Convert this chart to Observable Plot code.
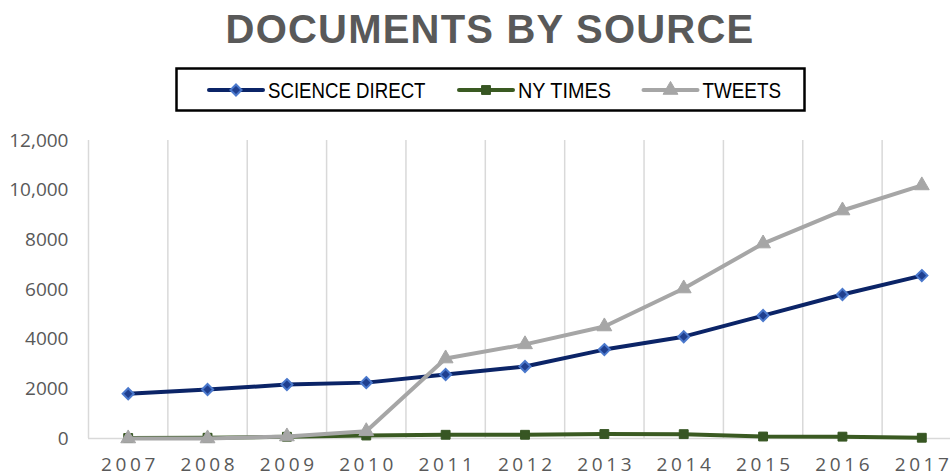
<!DOCTYPE html>
<html>
<head>
<meta charset="utf-8">
<script src="https://cdn.jsdelivr.net/npm/d3@7"></script>
<script src="https://cdn.jsdelivr.net/npm/@observablehq/plot@0.6"></script>
<style>
  html, body { margin: 0; padding: 0; background: #fff; }
  #wrap { position: relative; width: 950px; height: 475px; overflow: hidden; background: #fff; }
  #title { position: absolute; left: 0; top: 9px; width: 980px; text-align: center;
    font-family: "Liberation Sans", Arial, sans-serif; font-weight: bold; font-size: 40px;
    line-height: 40px; letter-spacing: 1.2px; color: #595959; }
  #legend { position: absolute; left: 175px; top: 67px; }
  #chart { position: absolute; left: 0; top: 120px; width: 961px; }
  #chart svg { max-width: none !important; width: 961px !important; height: 355px !important; }
  #chart g[aria-label="x-axis tick label"] text { letter-spacing: 3.6px; }
</style>
</head>
<body>
<div id="wrap">
  <div id="title">DOCUMENTS BY SOURCE</div>
  <div id="legend"></div>
  <div id="chart"></div>
</div>
<script>
const years = [2007, 2008, 2009, 2010, 2011, 2012, 2013, 2014, 2015, 2016, 2017];
const scienceDirect = [1800, 1970, 2170, 2250, 2580, 2900, 3580, 4100, 4950, 5800, 6560];
const nyTimes = [20, 30, 70, 120, 150, 150, 180, 175, 80, 75, 30];
const tweets = [0, 0, 80, 290, 3220, 3790, 4510, 6040, 7850, 9180, 10190];
const seriesNames = ["SCIENCE DIRECT", "NY TIMES", "TWEETS"];
const yTicks = [0, 2000, 4000, 6000, 8000, 10000, 12000];
const yTickLabels = ["0", "2000", "4000", "6000", "8000", "10,000", "12,000"];

const styles = {
  "SCIENCE DIRECT": {line: "#0B2467", fill: "#1F3F8F", stroke: "#4A78CC", symbol: "diamond2", r: 5, sw: 2},
  "NY TIMES": {line: "#3A5A22", fill: "#375623", stroke: "#375623", symbol: "square", r: 5, sw: 1},
  "TWEETS": {line: "#A6A6A6", fill: "#A6A6A6", stroke: "#A6A6A6", symbol: "triangle", r: 5.5, sw: 1}
};

const valuesBySeries = {"SCIENCE DIRECT": scienceDirect, "NY TIMES": nyTimes, "TWEETS": tweets};
const data = seriesNames.flatMap(s => years.map((yr, i) => ({series: s, year: yr, value: valuesBySeries[s][i]})));
const boundaries = years.map(y => y - 0.5).concat([years[years.length - 1] + 0.5]);

const marks = [
  Plot.ruleX(boundaries, {x: d => d, y1: 0, y2: 12000, stroke: "#D9D9D9", strokeWidth: 1.5}),
  Plot.ruleY([0], {stroke: "#D9D9D9", strokeWidth: 1.5}),
  Plot.axisY({ticks: yTicks, tickFormat: d => yTickLabels[yTicks.indexOf(d)], tickSize: 0, tickPadding: 20,
    fontSize: 19, fontFamily: "Open Sans, sans-serif", fill: "#595959", label: null}),
  Plot.axisX({ticks: years, tickFormat: d => String(d), tickSize: 0, tickPadding: 19,
    fontSize: 19, fontFamily: "Open Sans, sans-serif", fill: "#595959", label: null, dx: 1.8})
];
for (const s of seriesNames) {
  const st = styles[s];
  const d = data.filter(r => r.series === s);
  marks.push(Plot.line(d, {x: "year", y: "value", stroke: st.line, strokeWidth: 4, strokeLinejoin: "round", strokeLinecap: "round"}));
  marks.push(Plot.dot(d, {x: "year", y: "value", symbol: st.symbol, r: st.r,
    fill: st.fill, stroke: st.stroke, strokeWidth: st.sw}));
}

const chart = Plot.plot({
  width: 961,
  height: 355,
  marginLeft: 88,
  marginRight: 0,
  marginTop: 20,
  marginBottom: 37,
  x: {domain: [2006.5, 2017.5], axis: null},
  y: {domain: [0, 12000], axis: null},
  style: {background: "transparent", color: "#595959", overflow: "visible"},
  marks
});
document.getElementById("chart").appendChild(chart);

// legend
const lg = d3.select("#legend").append("svg").attr("width", 631).attr("height", 46);
lg.append("rect").attr("x", 1.5).attr("y", 1.5).attr("width", 628).attr("height", 42)
  .attr("fill", "#fff").attr("stroke", "#000").attr("stroke-width", 2.5);
const legendX = [34, 284, 468.5];
const legendTextLen = [157.5, 93, 78.5];
const symMap = {diamond2: d3.symbolDiamond2, square: d3.symbolSquare, triangle: d3.symbolTriangle};
seriesNames.forEach((s, i) => {
  const st = styles[s];
  const g = lg.append("g").attr("transform", `translate(${legendX[i]},23)`);
  g.append("line").attr("x1", 0).attr("x2", 54).attr("y1", 0).attr("y2", 0)
    .attr("stroke", st.line).attr("stroke-width", 4).attr("stroke-linecap", "round");
  g.append("path").attr("transform", "translate(27,0)")
    .attr("d", d3.symbol(symMap[st.symbol], Math.PI * st.r * st.r)())
    .attr("fill", st.fill).attr("stroke", st.stroke).attr("stroke-width", st.sw);
  g.append("text").attr("x", 59).attr("y", 8).text(s)
    .attr("font-family", "'Liberation Sans', Arial, sans-serif")
    .attr("textLength", legendTextLen[i]).attr("lengthAdjust", "spacingAndGlyphs")
    .attr("font-size", 21.5).attr("fill", "#000");
});
</script>
</body>
</html>
